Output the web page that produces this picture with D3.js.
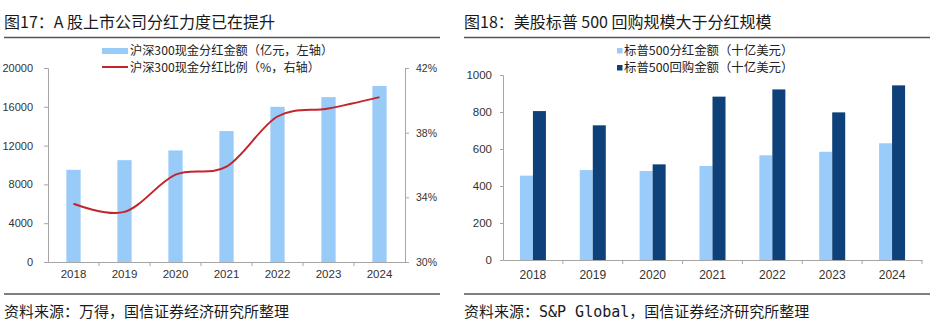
<!DOCTYPE html>
<html>
<head>
<meta charset="utf-8">
<script src="https://cdn.jsdelivr.net/npm/d3@7"></script>
<style>
  body { margin: 0; background: #fff; }
  svg { display: block; }
  .cjk { font-family: "Noto Sans CJK SC", sans-serif; }
  .tick text { font-family: "Liberation Sans", Arial, sans-serif; fill: #333; }
</style>
</head>
<body>
<svg id="chart" width="935" height="324"></svg>
<script>
// data
const years = ["2018", "2019", "2020", "2021", "2022", "2023", "2024"];
const hs300Dividend = [9500, 10500, 11500, 13500, 16000, 17000, 18150];   // 亿元
const hs300Ratio = [33.6, 33.1, 35.4, 35.9, 39.0, 39.5, 40.2];             // %
const spDividend = [456, 486, 481, 508, 566, 585, 631];                    // 十亿美元
const spBuyback = [805, 728, 517, 883, 922, 798, 944];                     // 十亿美元
const leftTicks = [0, 4000, 8000, 12000, 16000, 20000];
const rightTicks = [30, 34, 38, 42];
const spTicks = [0, 200, 400, 600, 800, 1000];

const axisGray = "#a6a6a6";
const svg = d3.select("#chart");

// titles, rules and sources
function frame(x0, x1, title, source) {
  svg.append("text").attr("class", "cjk").attr("x", x0).attr("y", 28)
    .attr("font-size", 16).attr("fill", "#1a1a1a").text(title);
  svg.append("line").attr("x1", x0).attr("x2", x1).attr("y1", 37.5).attr("y2", 37.5)
    .attr("stroke", "#555").attr("stroke-width", 1.3);
  svg.append("line").attr("x1", x0).attr("x2", x1).attr("y1", 294).attr("y2", 294)
    .attr("stroke", "#555").attr("stroke-width", 1.3);
  svg.append("text").attr("x", x0).attr("y", 317)
    .style("font-family", "\"DejaVu Sans Mono\", \"Noto Sans CJK SC\", monospace")
    .attr("font-size", 15).attr("fill", "#1a1a1a").text(source);
}
frame(4, 440, "图17：A 股上市公司分红力度已在提升", "资料来源：万得，国信证券经济研究所整理");
frame(464, 930, "图18：美股标普 500 回购规模大于分红规模", "资料来源：S&P Global，国信证券经济研究所整理");

function styleAxis(g) {
  g.selectAll("path, line").attr("stroke", axisGray);
  g.selectAll("text").attr("font-size", 11);
}

// ---- left chart: HS300 ----
const xL = d3.scaleBand().domain(years).range([48, 405]);
const yL = d3.scaleLinear().domain([0, 20000]).range([262, 68]);
const yR = d3.scaleLinear().domain([30, 42]).range([262, 68]);
const barW = xL.bandwidth() * 0.28;

svg.append("g").attr("transform", "translate(48,0)")
  .call(d3.axisLeft(yL).tickValues(leftTicks).tickSize(4).tickPadding(11).tickFormat(d3.format("d")))
  .call(styleAxis);
svg.append("g").attr("transform", "translate(405,0)")
  .call(d3.axisRight(yR).tickValues(rightTicks).tickSize(4).tickPadding(7).tickFormat(d => d + "%"))
  .call(styleAxis)
  .selectAll("text").attr("font-size", 10.5);

svg.append("g").selectAll("rect").data(years).join("rect")
  .attr("x", (d) => xL(d) + (xL.bandwidth() - barW) / 2)
  .attr("y", (d, i) => yL(hs300Dividend[i]))
  .attr("width", barW)
  .attr("height", (d, i) => yL(0) - yL(hs300Dividend[i]))
  .attr("fill", "#99cbf8");

const gxL = svg.append("g").attr("transform", "translate(0,262)")
  .call(d3.axisBottom(xL).tickSize(0).tickPadding(8))
  .call(styleAxis);
gxL.selectAll("text").attr("font-size", 11.5);
gxL.selectAll(".sep").data(years.slice(1)).join("line").attr("class", "sep")
  .attr("x1", d => xL(d)).attr("x2", d => xL(d)).attr("y1", 0).attr("y2", 4)
  .attr("stroke", axisGray);

const line = d3.line()
  .x((d, i) => xL(years[i]) + xL.bandwidth() / 2)
  .y(d => yR(d))
  .curve(d3.curveCardinal.tension(0));
svg.append("path").datum(hs300Ratio).attr("d", line)
  .attr("fill", "none").attr("stroke", "#c4242c").attr("stroke-width", 2);

// legend left
const lgL = svg.append("g").attr("class", "cjk").attr("font-size", 12.2).attr("fill", "#222");
lgL.append("rect").attr("x", 102).attr("y", 48).attr("width", 26).attr("height", 6).attr("fill", "#99cbf8");
lgL.append("text").attr("x", 130).attr("y", 51).attr("dy", "0.35em").text("沪深300现金分红金额（亿元，左轴）");
lgL.append("line").attr("x1", 102).attr("x2", 128).attr("y1", 67).attr("y2", 67)
  .attr("stroke", "#c4242c").attr("stroke-width", 2);
lgL.append("text").attr("x", 130).attr("y", 67.5).attr("dy", "0.35em").text("沪深300现金分红比例（%，右轴）");

// ---- right chart: S&P 500 ----
const seriesKeys = ["div", "buy"];
const seriesColor = { div: "#99ccfa", buy: "#0e4079" };
const seriesData = { div: spDividend, buy: spBuyback };
const xB = d3.scaleBand().domain(years).range([503, 922]);
const xSub = d3.scaleBand().domain(seriesKeys)
  .range([xB.bandwidth() / 2 - 13, xB.bandwidth() / 2 + 13]);
const yB = d3.scaleLinear().domain([0, 1000]).range([260, 75]);

svg.append("g").attr("transform", "translate(503,0)")
  .call(d3.axisLeft(yB).tickValues(spTicks).tickSize(3).tickPadding(8).tickFormat(d3.format("d")))
  .call(styleAxis)
  .selectAll("text").attr("font-size", 11.5);

svg.append("g").selectAll("g").data(seriesKeys).join("g")
  .attr("fill", k => seriesColor[k])
  .selectAll("rect").data(k => seriesData[k].map((v, i) => ({ k, v, year: years[i] }))).join("rect")
  .attr("x", d => xB(d.year) + xSub(d.k))
  .attr("y", d => yB(d.v))
  .attr("width", xSub.bandwidth())
  .attr("height", d => yB(0) - yB(d.v));

const gxB = svg.append("g").attr("transform", "translate(0,260)")
  .call(d3.axisBottom(xB).tickSize(0).tickPadding(10))
  .call(styleAxis);
gxB.selectAll("text").attr("font-size", 12);
gxB.selectAll(".sep").data(years.slice(1).concat(["end"])).join("line").attr("class", "sep")
  .attr("x1", d => d === "end" ? 922 : xB(d)).attr("x2", d => d === "end" ? 922 : xB(d))
  .attr("y1", 0).attr("y2", 4).attr("stroke", axisGray);

// legend right
const lgR = svg.append("g").attr("class", "cjk").attr("font-size", 12.4).attr("fill", "#222");
const lgLabels = ["标普500分红金额（十亿美元）", "标普500回购金额（十亿美元）"];
seriesKeys.forEach((k, i) => {
  const cy = 51 + i * 17;
  lgR.append("rect").attr("x", 617).attr("y", cy - 3).attr("width", 5.5).attr("height", 5.5).attr("fill", seriesColor[k]);
  lgR.append("text").attr("x", 624).attr("y", cy).attr("dy", "0.35em").text(lgLabels[i]);
});
</script>
</body>
</html>
